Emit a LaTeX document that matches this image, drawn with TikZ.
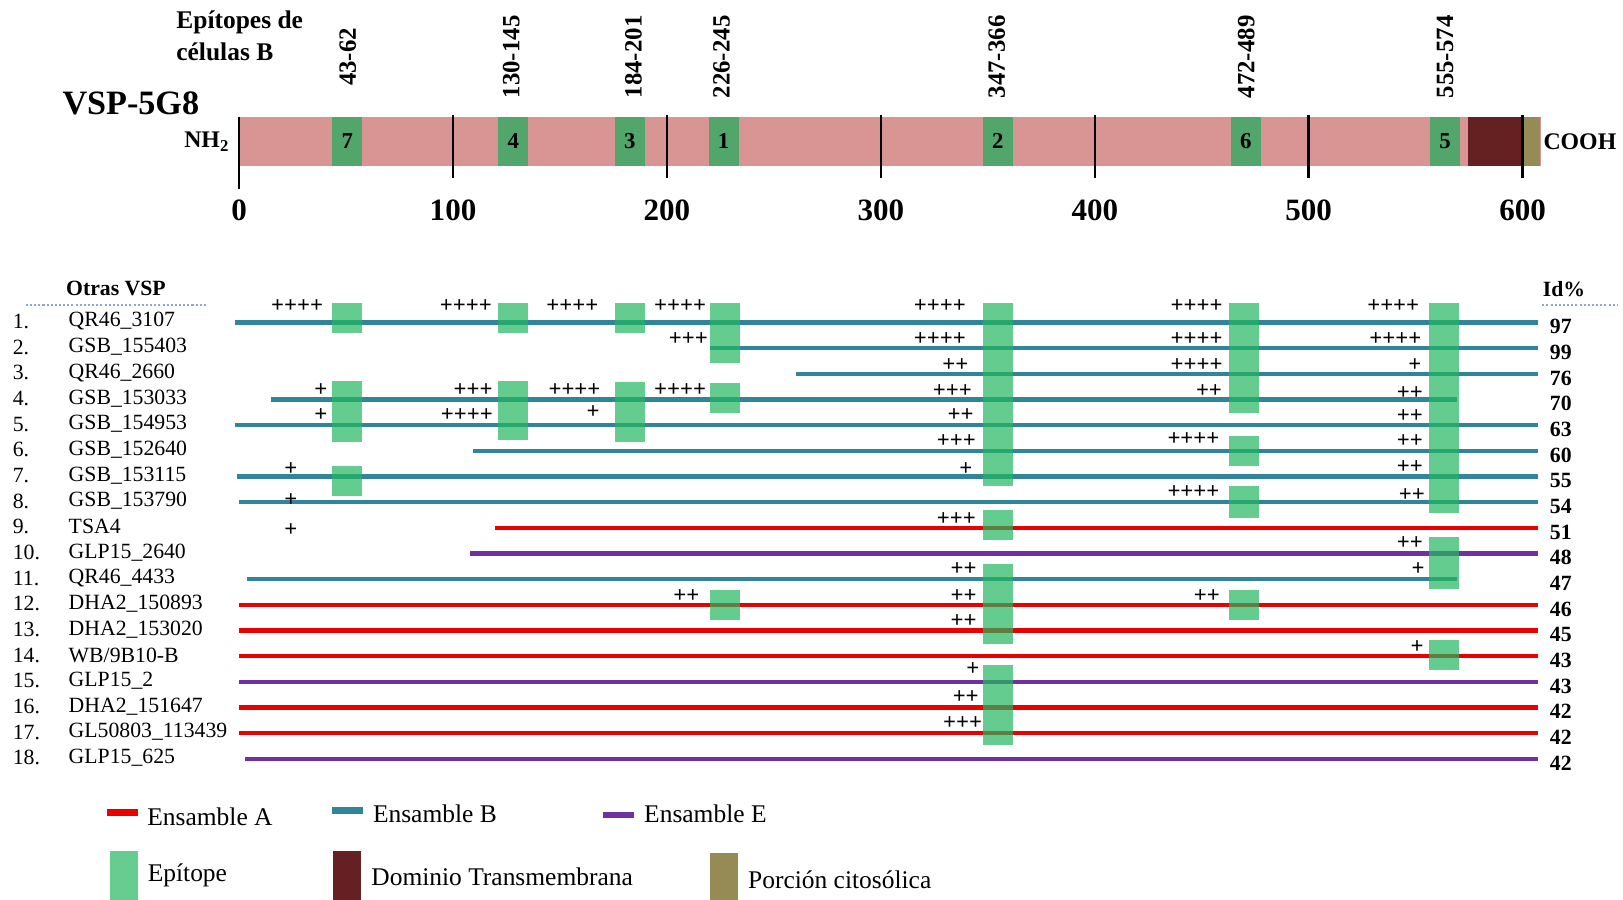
\documentclass[tikz,border=0pt]{standalone}
\usepackage{fontspec}
\setmainfont{Liberation Serif}
\usetikzlibrary{positioning}

\definecolor{ensA}{RGB}{235,0,0}
\definecolor{ensB}{RGB}{49,133,155}
\definecolor{ensE}{RGB}{112,48,160}
\definecolor{epiL}{RGB}{36,182,95}
\definecolor{epiLeg}{RGB}{102,204,143}
\definecolor{epiD}{RGB}{83,166,107}
\definecolor{protein}{RGB}{217,148,148}
\definecolor{tmdom}{RGB}{101,33,33}
\definecolor{cyto}{RGB}{150,138,85}
\definecolor{dotline}{RGB}{143,165,210}

\begin{document}
\begin{tikzpicture}[x=0.5pt,y=-0.5pt,
 lbl/.style={font=\fontsize{10.5}{12}\selectfont,inner sep=0pt,anchor=west},
 hdr/.style={font=\fontsize{10.5}{12}\selectfont\bfseries,inner sep=0pt},
 pid/.style={font=\fontsize{10.5}{12}\selectfont\bfseries,inner sep=0pt,anchor=west},
 plus/.style={font=\fontsize{11}{12}\selectfont\bfseries,inner sep=0pt},
 rng/.style={font=\fontsize{12}{13}\selectfont\bfseries,rotate=90,inner sep=0pt},
 axn/.style={font=\fontsize{15}{16}\selectfont\bfseries,inner sep=0pt},
 tick/.style={line width=1.2pt},
 seq/.style={line width=2.2pt},
 epi/.style={fill=epiL,fill opacity=0.7},
 epinum/.style={fill=epiD,minimum width=14.5pt,minimum height=23.5pt,inner sep=0pt,
   font=\fontsize{11}{12}\selectfont\bfseries},
 swatch/.style={inner sep=0pt,minimum width=13.5pt,minimum height=23.5pt},
 bar/.style={inner sep=0pt,minimum width=15pt,minimum height=3pt},
 leg/.style={font=\fontsize{12.3}{14}\selectfont,inner sep=0pt}]
\useasboundingbox (0,0) rectangle (1568,869);

% protein on top
\node[font=\fontsize{12.3}{15}\selectfont\bfseries,anchor=base west,inner sep=0pt] (ephdr) at (170,28) {Epítopes de};
\node[font=\fontsize{12.3}{15}\selectfont\bfseries,anchor=base west,inner sep=0pt] (ephdr2) at (170,58) {células B};
\node[font=\fontsize{16.5}{18}\selectfont\bfseries,anchor=west,inner sep=0pt] (vsp) at (60,100) {VSP-5G8};
\node[fill=protein,inner sep=0pt,minimum width=628.5pt,minimum height=23.5pt,anchor=north west] (prot) at (231,113) {};
\fill[tmdom] (1418,113) rectangle (1471,160);
\fill[cyto] (1471,113) rectangle (1488,160);
\node[font=\fontsize{11.5}{12}\selectfont\bfseries,inner sep=0pt,left=4.5pt of prot.west] (nh) {NH\textsubscript{2}};
\node[font=\fontsize{11.5}{12}\selectfont\bfseries,inner sep=0pt,right=1pt of prot.east] (cooh) {COOH};

\node[epinum] (e7) at (335.5,136.5) {7};
\node[epinum] (e4) at (496,136.5) {4};
\node[epinum] (e3) at (608.5,136.5) {3};
\node[epinum] (e1) at (699,136.5) {1};
\node[epinum] (e2) at (964,136.5) {2};
\node[epinum] (e6) at (1203.5,136.5) {6};
\node[epinum] (e5) at (1396,136.5) {5};

\node[rng] (r7) at (336,55) {43-62};
\node[rng] (r4) at (494,55) {130-145};
\node[rng] (r3) at (612,55) {184-201};
\node[rng] (r1) at (697,55) {226-245};
\node[rng] (r2) at (963,55) {347-366};
\node[rng] (r6) at (1204,55) {472-489};
\node[rng] (r5) at (1396,55) {555-574};

\draw[tick] (231,113) -- (231,183);
\node[axn] (ax0) at (231,203) {0};
\foreach \v/\t in {1/100,2/200,3/300,4/400,5/500,6/600}{
  \draw[tick] (231+206.67*\v,111) -- (231+206.67*\v,172);
  \node[axn] (ax\v) at (231+206.67*\v,203) {\t};
}

% other VSPs
\node[hdr] (otras) at (112,279) {Otras VSP};
\draw[dotline,densely dotted,line width=1pt] (25,295) -- (200,295);
\node[hdr] (idp) at (1511,279) {Id\%};
\draw[dotline,densely dotted,line width=1pt] (1490,295) -- (1563,295);

\foreach \i/\nm/\xa/\xb/\col/\pv in {
  1/QR46\_3107/227/1486/ensB/97,
  2/GSB\_155403/686/1486/ensB/99,
  3/QR46\_2660/769/1486/ensB/76,
  4/GSB\_153033/262/1408/ensB/70,
  5/GSB\_154953/227/1486/ensB/63,
  6/GSB\_152640/457/1486/ensB/60,
  7/GSB\_153115/229/1486/ensB/55,
  8/GSB\_153790/231/1486/ensB/54,
  9/TSA4/478/1486/ensA/51,
  10/GLP15\_2640/454/1486/ensE/48,
  11/QR46\_4433/239/1408/ensB/47,
  12/DHA2\_150893/231/1486/ensA/46,
  13/DHA2\_153020/231/1486/ensA/45,
  14/{WB/9B10-B}/231/1486/ensA/43,
  15/GLP15\_2/231/1486/ensE/43,
  16/DHA2\_151647/231/1486/ensA/42,
  17/GL50803\_113439/231/1486/ensA/42,
  18/GLP15\_625/237/1486/ensE/42}{
  \pgfmathsetmacro\yy{310.5+(\i-1)*24.8}
  \node[lbl] (num\i) at (12,\yy) {\i.};
  \node[lbl] (nm\i) at (66,\yy) {\nm};
  \draw[seq,\col] (\xa,\yy+1) -- (\xb,\yy+1);
  \node[pid] (pid\i) at (1497,\yy+5) {\pv};
}

\foreach \cx/\ya/\yb in {335.5/293/322, 496/293/322, 608.5/293/322, 700/293/351,
  964/293/470, 1201.5/293/399, 1395.5/293/496, 335.5/368/427, 496/368/425,
  608.5/369/427, 700/370/399, 1201.5/421/450, 335.5/450/479, 1201.5/470/500,
  964/493/522, 1395.5/519/569, 964/545/622, 700/570/599, 1201.5/570/599,
  1395.5/618/647, 964/642/720}
  \fill[epi] (\cx-14.5,\ya) rectangle (\cx+14.5,\yb);

\foreach \px/\py/\pt [count=\k] in {
  287/296/++++, 450/296/++++, 553/296/++++, 657/296/++++, 908/296/++++, 1156/296/++++, 1346/296/++++,
  665/328/+++, 908/328/++++, 1156/328/++++, 1348/328/++++,
  923/353/++, 1156/353/++++, 1367/353/+,
  310/377/+, 457/377/+++, 555/377/++++, 657/377/++++, 920/378/+++, 1168/378/++, 1362/380/++,
  310/401/+, 451/401/++++, 573/398/+, 928/401/++, 1362/402/++,
  924/426/+++, 1153/424/++++, 1362/426/++,
  281/453/+, 933/453/+, 1362/451/++,
  281/483/+, 1153/475/++++, 1364/478/++,
  924/501/+++, 281/512/+,
  1362/525/++,
  931/550/++, 1370/550/+,
  663/576/++, 931/576/++, 1166/576/++,
  931/600/++,
  1369/625/+,
  940/646/+,
  933/673/++,
  930/699/+++}
  \node[plus] (pl\k) at (\px,\py) {\pt};

% legend
\node[bar,fill=ensA] (swA) at (118,785) {};
\node[leg,anchor=west] (lA) at (142,789) {Ensamble A};
\node[bar,fill=ensB] (swB) at (336,783) {};
\node[leg,anchor=west] (lB) at (360,786) {Ensamble B};
\node[bar,fill=ensE] (swE) at (597.5,787) {};
\node[leg,anchor=west] (lE) at (622,786) {Ensamble E};
\node[swatch,fill=epiLeg] (swEp) at (119.5,845.5) {};
\node[leg,right=4.5pt of swEp] (lEp) {Epítope};
\node[swatch,fill=tmdom] (swTm) at (335.5,845.5) {};
\node[leg,right=4.5pt of swTm,yshift=-1pt] (lTm) {Dominio Transmembrana};
\node[swatch,fill=cyto,minimum height=22.5pt] (swCy) at (699.5,846.5) {};
\node[leg,right=4.5pt of swCy,yshift=-1.5pt] (lCy) {Porción citosólica};
\end{tikzpicture}
\end{document}
